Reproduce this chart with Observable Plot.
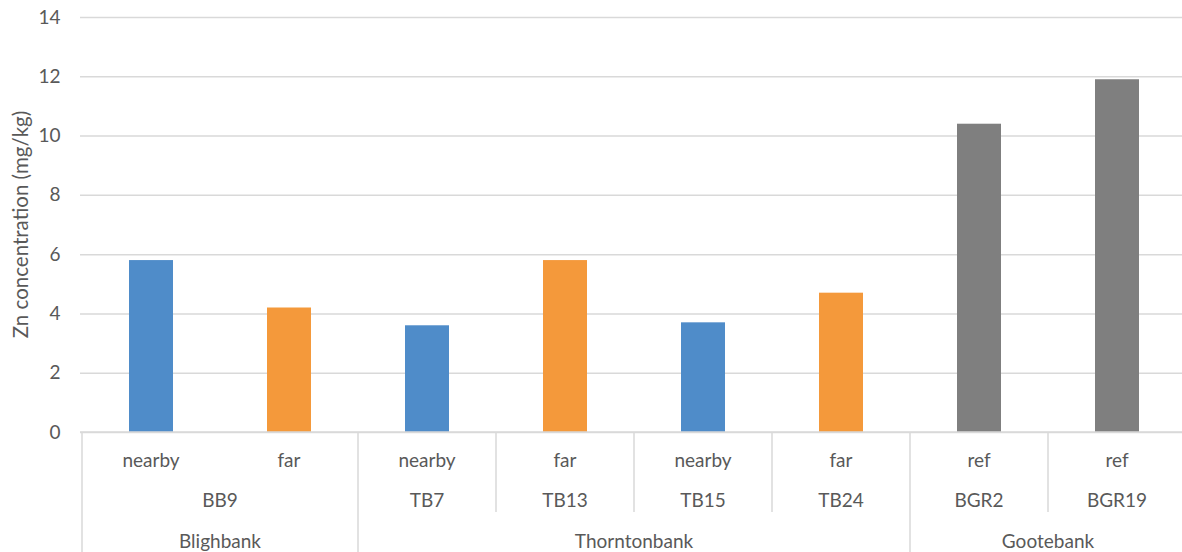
<!DOCTYPE html>
<html>
<head>
<meta charset="utf-8">
<script src="https://cdn.jsdelivr.net/npm/d3@7"></script>
<script src="https://cdn.jsdelivr.net/npm/@observablehq/plot@0.6"></script>
<style>
html, body { margin: 0; padding: 0; background: #fff; overflow: hidden; }
#chart svg { display: block; }
</style>
</head>
<body>
<div id="chart"></div>
<script>
// ---- data ----
const groups = ["Blighbank", "Blighbank", "Thorntonbank", "Thorntonbank", "Thorntonbank", "Thorntonbank", "Gootebank", "Gootebank"];
const sites = ["BB9", "BB9", "TB7", "TB13", "TB15", "TB24", "BGR2", "BGR19"];
const conditions = ["nearby", "far", "nearby", "far", "nearby", "far", "ref", "ref"];
const values = [5.8, 4.2, 3.6, 5.8, 3.7, 4.7, 10.4, 11.9];
const yTicks = [0, 2, 4, 6, 8, 10, 12, 14];
const conditionDomain = ["nearby", "far", "ref"];
const conditionColors = ["#4F8CC9", "#F4993B", "#7F7F7F"];
const yLabel = "Zn concentration (mg/kg)";

const data = sites.map((s, i) => ({
  key: s + "|" + conditions[i],
  site: s,
  group: groups[i],
  condition: conditions[i],
  value: values[i]
}));
const keys = data.map(d => d.key);
const n = keys.length;

const textColor = "#595959";
const lineColor = "#d9d9d9";
const fontSize = 19;

function categoryAxis(index, scales, vals, dims) {
  const x = scales.x;
  const step = typeof x.step === "function" ? x.step() : (x(keys[1]) - x(keys[0]));
  const bw = typeof x.bandwidth === "function" ? x.bandwidth() : 0;
  const center = k => x(k) + bw / 2;
  const y0 = dims.height - dims.marginBottom;
  const g = d3.create("svg:g")
    .attr("fill", textColor)
    .attr("font-size", fontSize)
    .attr("text-anchor", "middle");

  // boundaries
  for (let i = 0; i <= n; i++) {
    const xb = i < n ? center(keys[i]) - step / 2 : center(keys[n - 1]) + step / 2;
    const groupEdge = i === 0 || i === n || groups[i] !== groups[i - 1];
    const siteEdge = groupEdge || sites[i] !== sites[i - 1];
    if (!siteEdge) continue;
    g.append("line")
      .attr("x1", xb).attr("x2", xb)
      .attr("y1", y0).attr("y2", groupEdge ? dims.height : y0 + 80)
      .attr("stroke", lineColor).attr("stroke-width", 1.5);
  }
  // baseline
  g.append("line")
    .attr("x1", dims.marginLeft).attr("x2", dims.width - dims.marginRight)
    .attr("y1", y0).attr("y2", y0)
    .attr("stroke", lineColor).attr("stroke-width", 1.5);

  // condition labels
  keys.forEach((k, i) => {
    g.append("text").attr("x", center(k)).attr("y", y0 + 28).attr("dy", "0.35em").text(conditions[i]);
  });
  const spans = (arr) => {
    const out = [];
    arr.forEach((v, i) => {
      if (i === 0 || v !== arr[i - 1]) out.push({label: v, start: i, end: i});
      else out[out.length - 1].end = i;
    });
    return out;
  };
  spans(sites).forEach(s => {
    const cx = (center(keys[s.start]) + center(keys[s.end])) / 2;
    g.append("text").attr("x", cx).attr("y", y0 + 68).attr("dy", "0.35em").text(s.label);
  });
  spans(groups).forEach(s => {
    const cx = (center(keys[s.start]) + center(keys[s.end])) / 2;
    g.append("text").attr("x", cx).attr("y", y0 + 109).attr("dy", "0.35em").text(s.label);
  });

  // y label
  const cy = (dims.marginTop + y0) / 2;
  g.append("text")
    .attr("transform", `translate(20.5,${cy}) rotate(-90)`)
    .attr("dy", "0.35em")
    .attr("font-size", 20.5)
    .text(yLabel);
  return g.node();
}

const chart = Plot.plot({
  width: 1182,
  height: 552,
  marginLeft: 80,
  marginRight: -6,
  marginTop: 17,
  marginBottom: 120,
  style: {fontFamily: "Lato, 'DejaVu Sans', sans-serif", fontSize: fontSize + "px", color: textColor, background: "#fff"},
  x: {domain: keys, axis: null, paddingInner: 0.68, paddingOuter: 0.34, align: 0.5},
  y: {domain: [0, 14], axis: null},
  color: {domain: conditionDomain, range: conditionColors},
  marks: [
    Plot.gridY(yTicks, {stroke: lineColor, strokeOpacity: 1, strokeWidth: 1.5}),
    Plot.axisY({ticks: yTicks, tickSize: 0, tickPadding: 20, label: null, fontSize: fontSize}),
    Plot.barY(data, {x: "key", y: "value", fill: "condition"}),
    categoryAxis
  ]
});
document.getElementById("chart").append(chart);
</script>
</body>
</html>
